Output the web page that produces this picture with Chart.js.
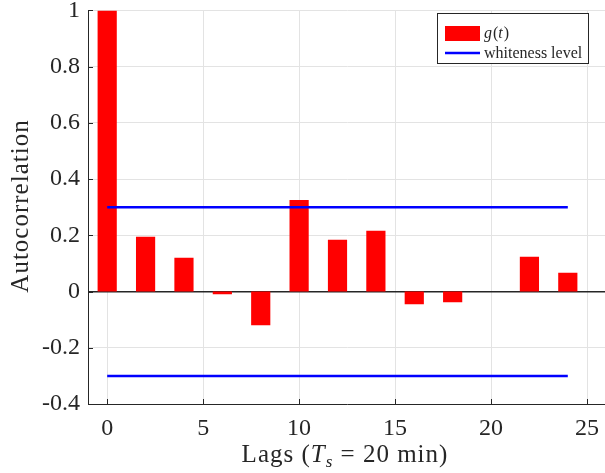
<!DOCTYPE html>
<html>
<head>
<meta charset="utf-8">
<script src="https://cdn.jsdelivr.net/npm/chart.js@4.4.1/dist/chart.umd.min.js"></script>
<style>
  html, body { margin: 0; padding: 0; overflow: hidden; background: #fff; }
  #wrap { width: 613px; height: 473px; }
</style>
</head>
<body>
<div id="wrap"><canvas id="acf"></canvas></div>
<script>
// autocorrelation at each lag
const lags = [0, 2, 4, 6, 8, 10, 12, 14, 16, 18, 20, 22, 24];
const acf = [1, 0.195, 0.12, -0.01, -0.12, 0.326, 0.184, 0.216, -0.045, -0.038, 0, 0.124, 0.067];
// whiteness bound, drawn over the lag span
const whiteLevel = 0.3;
const whiteSpan = [0, 24];

const serif = '"Liberation Serif", "DejaVu Serif", serif';
const axisColor = '#262626';

const upper = whiteSpan.map(x => ({ x: x, y: whiteLevel }));
const lower = whiteSpan.map(x => ({ x: x, y: -whiteLevel }));

// boxed legend in the top-right corner, like the matlab one
const legendBox = {
  id: 'legendBox',
  afterDraw(chart) {
    const c = chart.ctx;
    c.save();
    c.fillStyle = '#fff';
    c.fillRect(437.5, 13.5, 151, 50);
    c.strokeStyle = axisColor;
    c.lineWidth = 1;
    c.strokeRect(437.5, 13.5, 151, 50);

    c.fillStyle = chart.data.datasets[0].backgroundColor;
    c.fillRect(445, 26, 35, 15);

    c.strokeStyle = chart.data.datasets[1].borderColor;
    c.lineWidth = 2.5;
    c.beginPath();
    c.moveTo(445, 53);
    c.lineTo(480, 53);
    c.stroke();

    c.fillStyle = axisColor;
    c.textBaseline = 'alphabetic';
    let x = 484;
    const parts = [['italic', 'g'], ['normal', '('], ['italic', 't'], ['normal', ')']];
    parts.forEach(p => {
      c.font = p[0] + ' 16px ' + serif;
      c.fillText(p[1], x, 38);
      x += c.measureText(p[1]).width + (p[0] === 'italic' ? 1 : 0);
    });
    c.font = '16px ' + serif;
    c.fillText(chart.data.datasets[1].label, 484, 58);
    c.restore();
  }
};

// axis titles (italic T with subscript s) and inward tick marks
const extras = {
  id: 'extras',
  afterDraw(chart) {
    const c = chart.ctx;
    const a = chart.chartArea;
    const xs = chart.scales.x, ys = chart.scales.y;
    c.save();
    c.strokeStyle = axisColor;
    c.lineWidth = 1;
    xs.ticks.forEach(t => {
      const px = Math.round(xs.getPixelForValue(t.value)) + 0.5;
      c.beginPath(); c.moveTo(px, a.bottom); c.lineTo(px, a.bottom - 5); c.stroke();
    });
    ys.ticks.forEach(t => {
      const py = Math.round(ys.getPixelForValue(t.value)) + 0.5;
      c.beginPath(); c.moveTo(a.left, py); c.lineTo(a.left + 5, py); c.stroke();
    });

    c.fillStyle = axisColor;
    c.letterSpacing = '1px';
    c.textBaseline = 'alphabetic';

    const pieces = [
      ['normal', '25px', 'Lags (', 0],
      ['italic', '25px', 'T', 0],
      ['italic', '17px', 's', 5],
      ['normal', '25px', ' = 20 min)', 0]
    ];
    let w = 0;
    pieces.forEach(p => { c.font = p[0] + ' ' + p[1] + ' ' + serif; w += c.measureText(p[2]).width; });
    let x = 345 - w / 2;
    pieces.forEach(p => {
      c.font = p[0] + ' ' + p[1] + ' ' + serif;
      c.fillText(p[2], x, 462 + p[3]);
      x += c.measureText(p[2]).width;
    });

    c.translate(28, 206);
    c.rotate(-Math.PI / 2);
    c.textAlign = 'center';
    c.font = '25px ' + serif;
    c.fillText('Autocorrelation', 0, 0);
    c.restore();
  }
};

new Chart(document.getElementById('acf'), {
  type: 'bar',
  data: {
    datasets: [{
      type: 'bar',
      label: 'g(t)',
      data: lags.map((l, i) => ({ x: l, y: acf[i] })),
      backgroundColor: '#ff0000',
      borderWidth: 0,
      barPercentage: 0.5,
      categoryPercentage: 1,
      order: 2
    }, {
      type: 'line',
      label: 'whiteness level',
      data: upper,
      borderColor: '#0000ff',
      borderWidth: 2.5,
      pointRadius: 0,
      fill: false,
      order: 1
    }, {
      type: 'line',
      label: 'whiteness level',
      data: lower,
      borderColor: '#0000ff',
      borderWidth: 2.5,
      pointRadius: 0,
      fill: false,
      order: 1
    }]
  },
  options: {
    responsive: true,
    maintainAspectRatio: false,
    animation: false,
    layout: { padding: { top: 0, right: 0, bottom: 0, left: 0 } },
    plugins: {
      legend: { display: false },
      tooltip: { enabled: false }
    },
    scales: {
      x: {
        type: 'linear',
        offset: false,
        min: -1,
        max: 26,
        afterFit: s => { s.height = 69; },
        ticks: {
          stepSize: 5,
          includeBounds: false,
          color: axisColor,
          font: { family: serif, size: 24, lineHeight: 0.9 },
          padding: 14,
          maxRotation: 0
        },
        grid: { color: '#e3e3e3', drawTicks: false, offset: false },
        border: { display: true, color: axisColor, width: 1 }
      },
      y: {
        min: -0.4,
        max: 1,
        afterFit: s => { s.width = 88; },
        ticks: {
          stepSize: 0.2,
          color: axisColor,
          font: { family: serif, size: 24, lineHeight: 0.2 },
          padding: 8,
          callback: v => Number(v.toFixed(1)).toString()
        },
        grid: {
          drawTicks: false,
          color: c => (Math.abs(c.tick.value) < 1e-9 ? axisColor : '#e3e3e3'),
          lineWidth: c => (Math.abs(c.tick.value) < 1e-9 ? 1.5 : 1)
        },
        border: { display: true, color: axisColor, width: 1 }
      }
    }
  },
  plugins: [legendBox, extras]
});
</script>
</body>
</html>
